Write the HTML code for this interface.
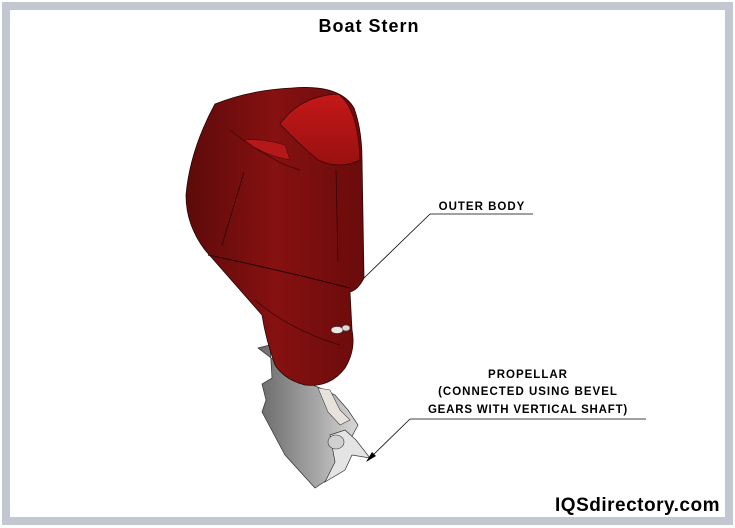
<!DOCTYPE html>
<html><head><meta charset="utf-8"><style>
html,body{margin:0;padding:0;background:#fff;}
svg{display:block;}
text{font-family:"Liberation Sans",Arial,sans-serif;font-weight:bold;}
</style></head><body>
<svg width="735" height="528" viewBox="0 0 735 528" xmlns="http://www.w3.org/2000/svg">
<defs>
<linearGradient id="red" x1="0" y1="0" x2="1" y2="0">
<stop offset="0" stop-color="#5e0a0a"/><stop offset="0.5" stop-color="#861111"/><stop offset="1" stop-color="#6a0b0b"/>
</linearGradient>
<linearGradient id="cap" x1="0" y1="0" x2="0" y2="1">
<stop offset="0" stop-color="#c41818"/><stop offset="1" stop-color="#9a1010"/>
</linearGradient>
<linearGradient id="gr" x1="0" y1="0" x2="1" y2="0">
<stop offset="0" stop-color="#6a6a6a"/><stop offset="0.6" stop-color="#a8a8a8"/><stop offset="1" stop-color="#d8d8d8"/>
</linearGradient>
</defs>
<rect x="0" y="0" width="735" height="528" fill="#fff"/>
<rect x="6" y="6" width="723" height="515" fill="none" stroke="#c3c7cf" stroke-width="8"/>
<text x="369" y="32" font-size="18" letter-spacing="1" text-anchor="middle" fill="#000">Boat Stern</text>

<!-- lower gray unit -->
<path d="M258,348 L270,345 L272,378 L262,384 L266,400 L262,412 L285,455 L315,488 L330,478 L345,462 L350,440 L358,425 L348,410 L335,395 L320,388 L300,380 Z" fill="url(#gr)" stroke="#333" stroke-width="0.7"/>
<path d="M318,388 L330,390 L340,410 L350,420 L340,425 L328,412 Z" fill="#e8e2dc" stroke="#444" stroke-width="0.6"/>
<path d="M330,435 L345,430 L356,440 L370,458 L352,455 L345,470 L325,482 L335,462 Z" fill="#e4e4e4" stroke="#333" stroke-width="0.7"/>
<ellipse cx="336" cy="442" rx="8" ry="7" fill="#d0d0d0" stroke="#333" stroke-width="0.6"/>

<!-- red cowl -->
<path d="M215,104 Q250,90 292,88 Q340,84 354,108 Q362,130 362,160 L364,278 Q358,290 350,292 L352,330 Q356,350 345,368 Q330,388 305,385 Q285,380 275,365 Q266,340 262,315 Q240,290 205,250 Q186,225 186,195 Q190,150 215,104 Z" fill="url(#red)" stroke="#2a0505" stroke-width="0.8"/>
<path d="M280,124 Q300,96 338,94 Q358,108 360,160 Q340,170 318,160 Q300,145 280,124 Z" fill="url(#cap)" stroke="#3a0606" stroke-width="0.7"/>
<path d="M230,130 Q255,150 285,165 L300,170" fill="none" stroke="#3a0606" stroke-width="0.7"/>
<path d="M244,140 Q262,155 290,160 L285,145 Q262,138 244,140 Z" fill="#b51818" stroke="#3a0606" stroke-width="0.5"/>
<path d="M244,172 L222,245" fill="none" stroke="#2a0505" stroke-width="0.7"/>
<path d="M336,170 L338,262" fill="none" stroke="#2a0505" stroke-width="0.7"/>
<path d="M208,255 Q280,270 350,288" fill="none" stroke="#2a0505" stroke-width="1"/>
<path d="M255,300 Q290,330 340,345" fill="none" stroke="#2a0505" stroke-width="0.6"/>
<ellipse cx="337" cy="330" rx="6" ry="3.5" fill="#e8e8e8" stroke="#333" stroke-width="0.5"/>
<ellipse cx="346" cy="328" rx="4" ry="3" fill="#d8d8d8" stroke="#333" stroke-width="0.5"/>

<!-- leaders -->
<line x1="364" y1="278" x2="430" y2="214" stroke="#000" stroke-width="0.8"/>
<line x1="430" y1="214" x2="533" y2="214" stroke="#000" stroke-width="0.8"/>
<text x="482" y="210" font-size="11.5" letter-spacing="1" text-anchor="middle">OUTER BODY</text>

<line x1="370" y1="458" x2="410" y2="419" stroke="#000" stroke-width="0.8"/>
<polygon points="366,462 372,452 376,456" fill="#000"/>
<line x1="410" y1="419" x2="646" y2="419" stroke="#000" stroke-width="0.8"/>
<text x="528" y="378" font-size="11.5" letter-spacing="1" text-anchor="middle">PROPELLAR</text>
<text x="528" y="395" font-size="11.5" letter-spacing="1" text-anchor="middle">(CONNECTED USING BEVEL</text>
<text x="528" y="413" font-size="11.5" letter-spacing="0.8" text-anchor="middle">GEARS WITH VERTICAL SHAFT)</text>

<text x="720" y="511" font-size="19" letter-spacing="0.5" text-anchor="end" fill="#000">IQSdirectory.com</text>
</svg>
</body></html>
